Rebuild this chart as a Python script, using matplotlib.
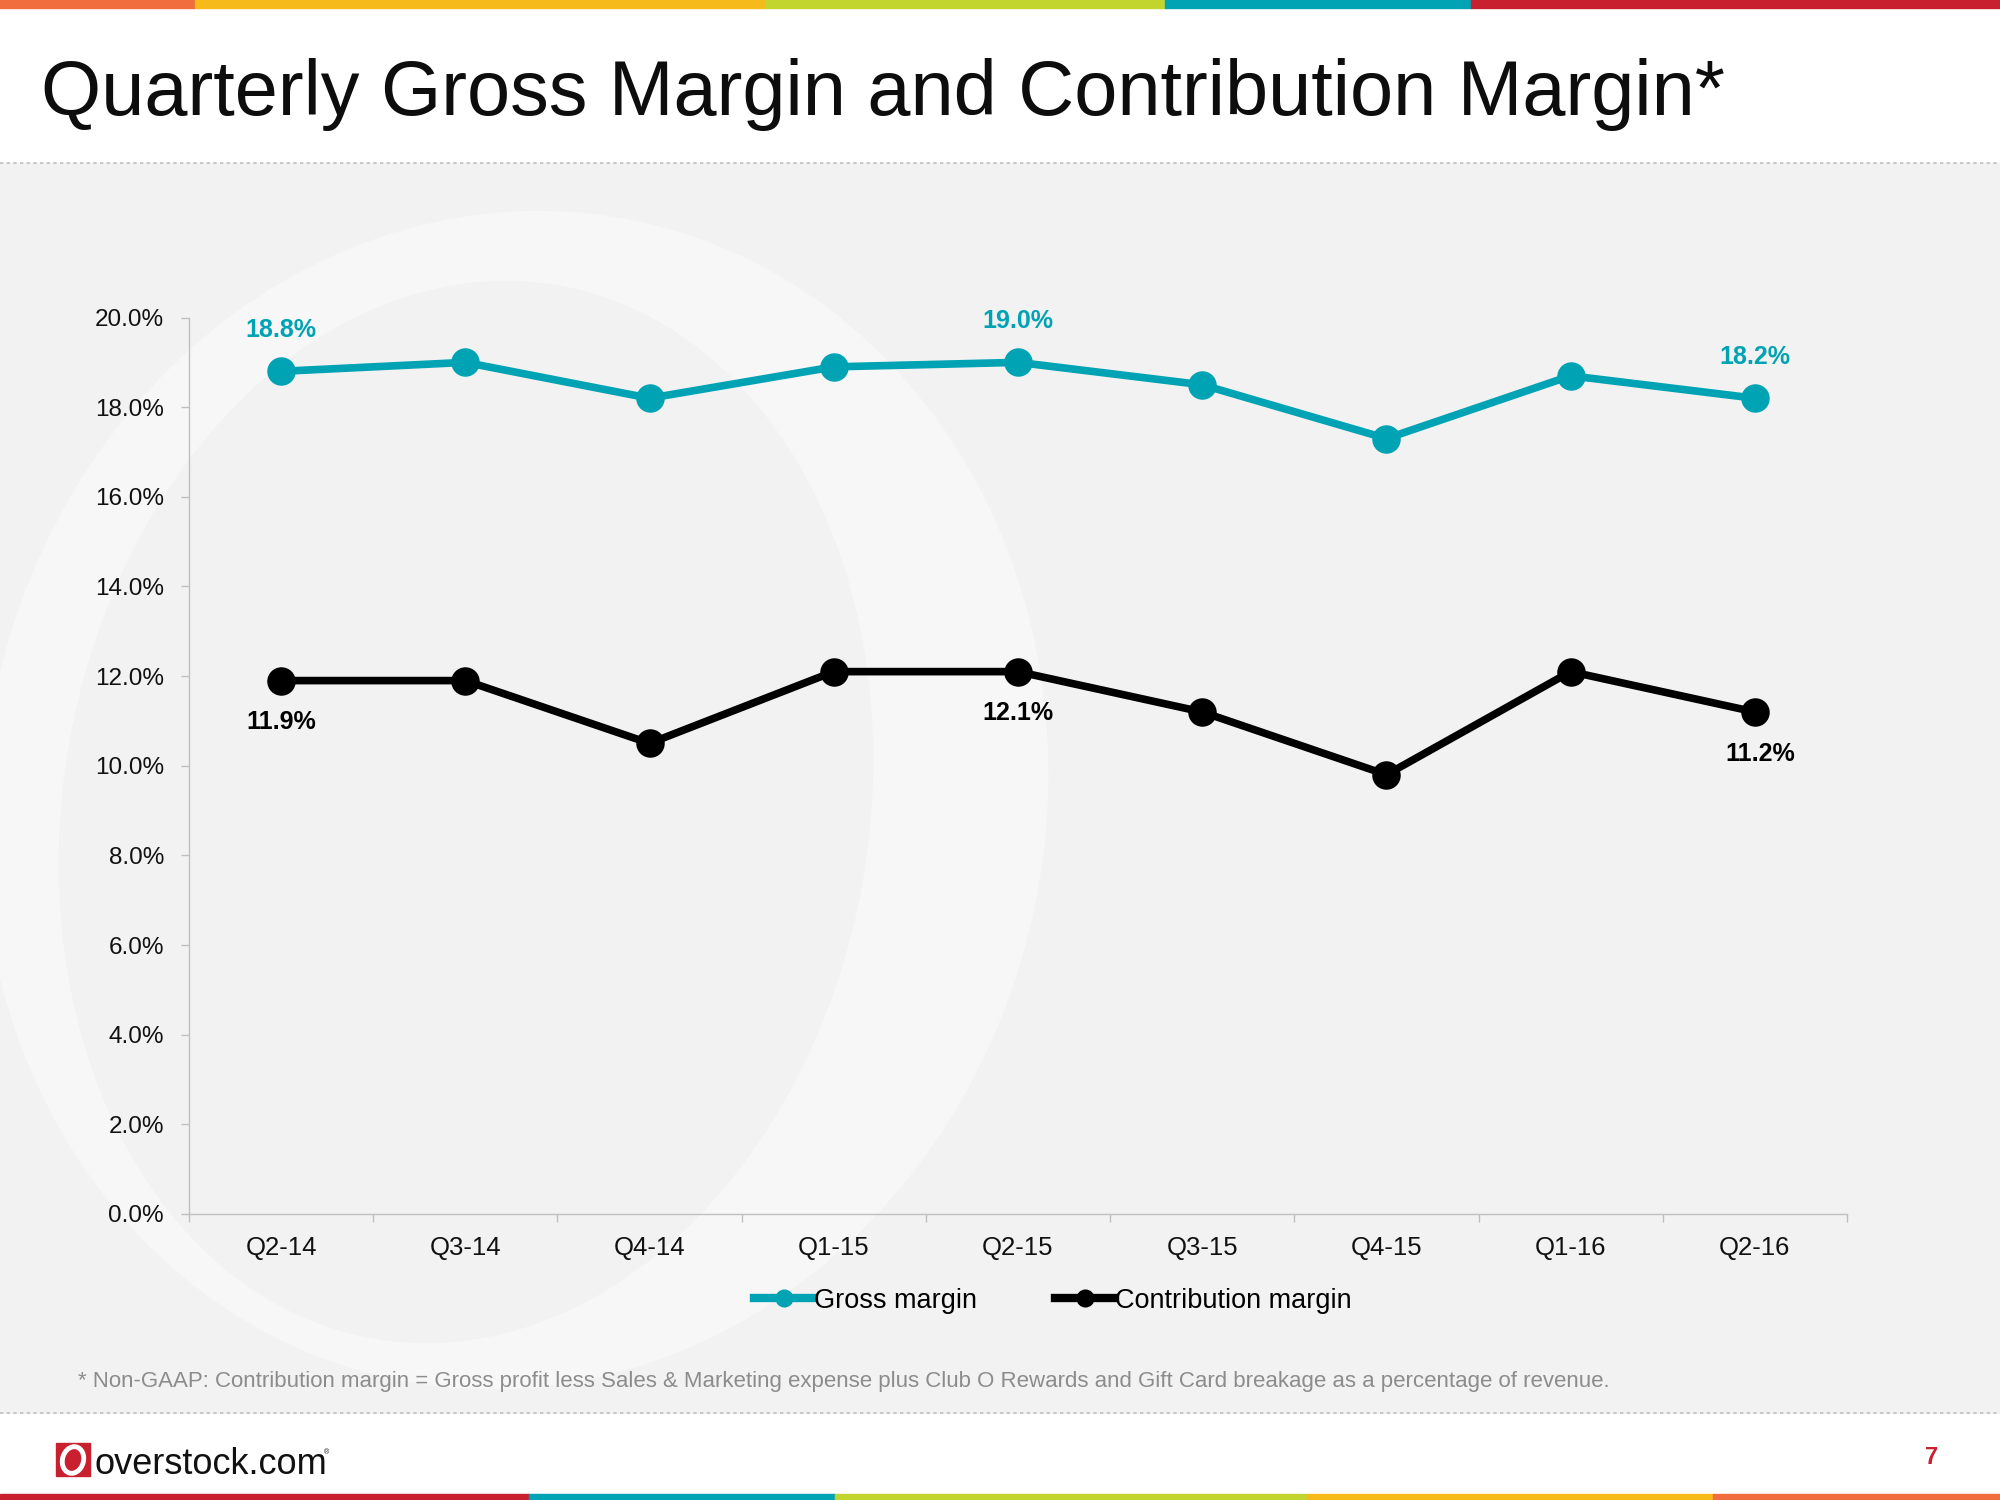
import matplotlib
matplotlib.use("Agg")
import matplotlib.pyplot as plt
from matplotlib.patches import Rectangle, Ellipse
from matplotlib.lines import Line2D

# data
quarters = ["Q2-14", "Q3-14", "Q4-14", "Q1-15", "Q2-15", "Q3-15", "Q4-15", "Q1-16", "Q2-16"]
gross_margin = [18.8, 19.0, 18.2, 18.9, 19.0, 18.5, 17.3, 18.7, 18.2]
contribution_margin = [11.9, 11.9, 10.5, 12.1, 12.1, 11.2, 9.8, 12.1, 11.2]
labelled = [0, 4, 8]
y_ticks = [0, 2, 4, 6, 8, 10, 12, 14, 16, 18, 20]

title = "Quarterly Gross Margin and Contribution Margin*"
footnote = ("* Non-GAAP: Contribution margin = Gross profit less Sales & Marketing expense "
            "plus Club O Rewards and Gift Card breakage as a percentage of revenue.")

TEAL = "#00A3B4"
RED = "#C8202F"
plt.rcParams["font.family"] = ["Liberation Sans", "DejaVu Sans"]

fig = plt.figure(figsize=(20, 15), dpi=100)

# slide background, drawn in pixel coords
bg = fig.add_axes([0, 0, 1, 1], zorder=0)
bg.set_xlim(0, 2000)
bg.set_ylim(1500, 0)
bg.axis("off")

band = Rectangle((0, 163), 2000, 1250, color="#F2F2F2", zorder=1)
bg.add_patch(band)
outer = Ellipse((515, 800), 1060, 1182, angle=12, color="#F7F7F7", zorder=2)
inner = Ellipse((466, 812), 804, 1068, angle=10, color="#F2F2F2", zorder=3)
for e in (outer, inner):
    bg.add_patch(e)
    e.set_clip_path(band)

bg.plot([0, 2000], [163, 163], color="#BFBFBF", lw=1.2, ls=(0, (2, 2)), zorder=4)
bg.plot([0, 2000], [1413, 1413], color="#BFBFBF", lw=1.2, ls=(0, (2, 2)), zorder=4)

top_bar = [(0, 195, "#F26D3D"), (195, 765, "#F7BA1B"), (765, 1165, "#C2D52F"),
           (1165, 1471, "#00A3B4"), (1471, 2000, "#C8202F")]
for x0, x1, c in top_bar:
    bg.add_patch(Rectangle((x0, 0), x1 - x0, 8, color=c, zorder=5))
bottom_bar = [(0, 529, "#C8202F"), (529, 835, "#00A3B4"), (835, 1307, "#C2D52F"),
              (1307, 1713, "#F7BA1B"), (1713, 2000, "#F26D3D")]
for x0, x1, c in bottom_bar:
    bg.add_patch(Rectangle((x0, 1494), x1 - x0, 6, color=c, zorder=5))

t_title = bg.text(41, 115, title, fontsize=56, color="#0D0D0D", ha="left", va="baseline", zorder=6)
t_foot = bg.text(78, 1381, footnote, fontsize=15, color="#8C8C8C", ha="left", va="center", zorder=6)

# logo
bg.add_patch(Rectangle((56, 1443), 34, 33, color=RED, zorder=6))
bg.add_patch(Ellipse((73, 1460), 21, 27, angle=15, fill=False, ec="white", lw=3.5, zorder=7))
bg.text(95, 1474, "overstock.com", fontsize=26, color="#111111", ha="left", va="baseline", zorder=6)
bg.text(324, 1454, "®", fontsize=5, color="#111111", ha="left", va="baseline", zorder=6)
bg.text(1932, 1457, "7", fontsize=17, color=RED, fontweight="bold", ha="center", va="center", zorder=6)

# chart
ax = fig.add_axes([0.0945, 0.1907, 0.829, 0.5976], zorder=2)
ax.set_facecolor("none")
x = list(range(len(quarters)))
ax.plot(x, gross_margin, color=TEAL, lw=5.5, marker="o", ms=19.5, zorder=3)
ax.plot(x, contribution_margin, color="black", lw=5.5, marker="o", ms=19.5, zorder=3)

for i in labelled:
    ax.annotate(f"{gross_margin[i]:.1f}%", (x[i], gross_margin[i]), xytext=(0, 30),
                textcoords="offset points", ha="center", va="center",
                color=TEAL, fontsize=18, fontweight="bold")
    dx = 4 if i == len(quarters) - 1 else 0
    ax.annotate(f"{contribution_margin[i]:.1f}%", (x[i], contribution_margin[i]), xytext=(dx, -30),
                textcoords="offset points", ha="center", va="center",
                color="black", fontsize=18, fontweight="bold")

ax.set_xlim(-0.5, len(quarters) - 0.5)
ax.set_ylim(0, 20)
ax.set_yticks(y_ticks)
ax.set_yticklabels([f"{v:.1f}%" for v in y_ticks])
ax.set_xticks(x)
ax.set_xticklabels(quarters)
ax.set_xticks([i - 0.5 for i in range(len(quarters) + 1)], minor=True)
ax.tick_params(axis="x", which="major", length=0, pad=16, labelsize=18.5, colors="#111111")
ax.tick_params(axis="x", which="minor", length=6, width=1, color="#BFBFBF", direction="out")
ax.tick_params(axis="y", length=6, width=1, color="#BFBFBF", pad=12, labelsize=17.5, labelcolor="#111111")
for s in ("top", "right"):
    ax.spines[s].set_visible(False)
for s in ("left", "bottom"):
    ax.spines[s].set_color("#BFBFBF")
    ax.spines[s].set_linewidth(1)

handles = [Line2D([], [], color=TEAL, lw=6, marker="o", ms=12),
           Line2D([], [], color="black", lw=6, marker="o", ms=12)]
fig.legend(handles, ["Gross margin", "Contribution margin"], loc="center",
           bbox_to_anchor=(0.5265, 0.1327), ncol=2, frameon=False, fontsize=19.5,
           handlelength=2.2, handletextpad=0.0, columnspacing=2.9)

# stretch title and footnote to the slide's widths
r = fig.canvas.get_renderer()
for t, target in ((t_title, 1684), (t_foot, 1536)):
    w = t.get_window_extent(r).width
    t.set_fontsize(t.get_fontsize() * target / w)

fig.savefig("out.png", dpi=100)
